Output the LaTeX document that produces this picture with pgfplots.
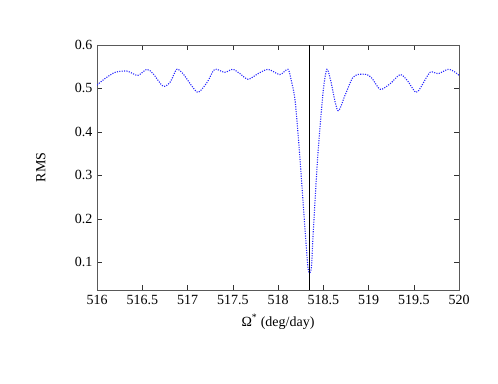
\documentclass[border=0pt]{standalone}
\usepackage{fontspec}
\setmainfont{Liberation Serif}
\usepackage{pgfplots}
\pgfplotsset{compat=1.18}

\pgfplotstableread{
x y
516.00 0.508
516.09 0.523
516.20 0.537
516.33 0.540
516.45 0.530
516.55 0.544
516.62 0.534
516.73 0.505
516.81 0.515
516.88 0.544
516.95 0.534
517.05 0.505
517.12 0.491
517.22 0.515
517.30 0.544
517.41 0.537
517.50 0.544
517.58 0.534
517.67 0.521
517.78 0.534
517.89 0.544
518.02 0.532
518.11 0.544
518.15 0.515
518.19 0.470
518.24 0.346
518.30 0.171
518.33 0.090
518.35 0.075
518.37 0.090
518.39 0.171
518.44 0.346
518.50 0.495
518.54 0.544
518.58 0.520
518.66 0.449
518.74 0.484
518.82 0.523
518.88 0.532
518.98 0.532
519.04 0.523
519.13 0.498
519.24 0.511
519.35 0.532
519.43 0.518
519.52 0.491
519.57 0.500
519.68 0.537
519.77 0.534
519.88 0.544
519.96 0.537
520.00 0.530
}\rmsdata

\begin{document}
\begin{tikzpicture}[x=1pt,y=1pt]
\path (0,0) rectangle (498,383);
\begin{axis}[
  at={(97pt,93pt)}, anchor=south west,
  scale only axis, width=362pt, height=245pt,
  xmin=516, xmax=520, ymin=0.036, ymax=0.6,
  xtick={516,516.5,...,520},
  ytick={0.1,0.2,0.3,0.4,0.5,0.6},
  tick align=inside, major tick length=5pt,
  axis line style={black!65},
  tick style={black!80},
  /pgf/number format/assume math mode=true,
  tick label style={font=\fontsize{14}{16}\selectfont},
  xticklabel style={yshift=-2pt},
  yticklabel style={xshift=-1pt},
  xlabel={Ω\textsuperscript{*} (deg/day)},
  ylabel={RMS},
  every axis x label/.style={at={(axis description cs:0.5,-0.13)}, anchor=center, font=\fontsize{14}{16}\selectfont},
  every axis y label/.style={at={(axis description cs:-0.155,0.5)}, rotate=90, anchor=center, font=\fontsize{14}{16}\selectfont},
]
\addplot[color=blue!85!white, line width=1.1pt, dash pattern=on 1.1pt off 1.3pt, smooth, tension=0.45] table[x=x,y=y] {\rmsdata};
\addplot[black, line width=0.8pt] coordinates {(518.35,0.036) (518.35,0.6)};
\end{axis}
\end{tikzpicture}
\end{document}
